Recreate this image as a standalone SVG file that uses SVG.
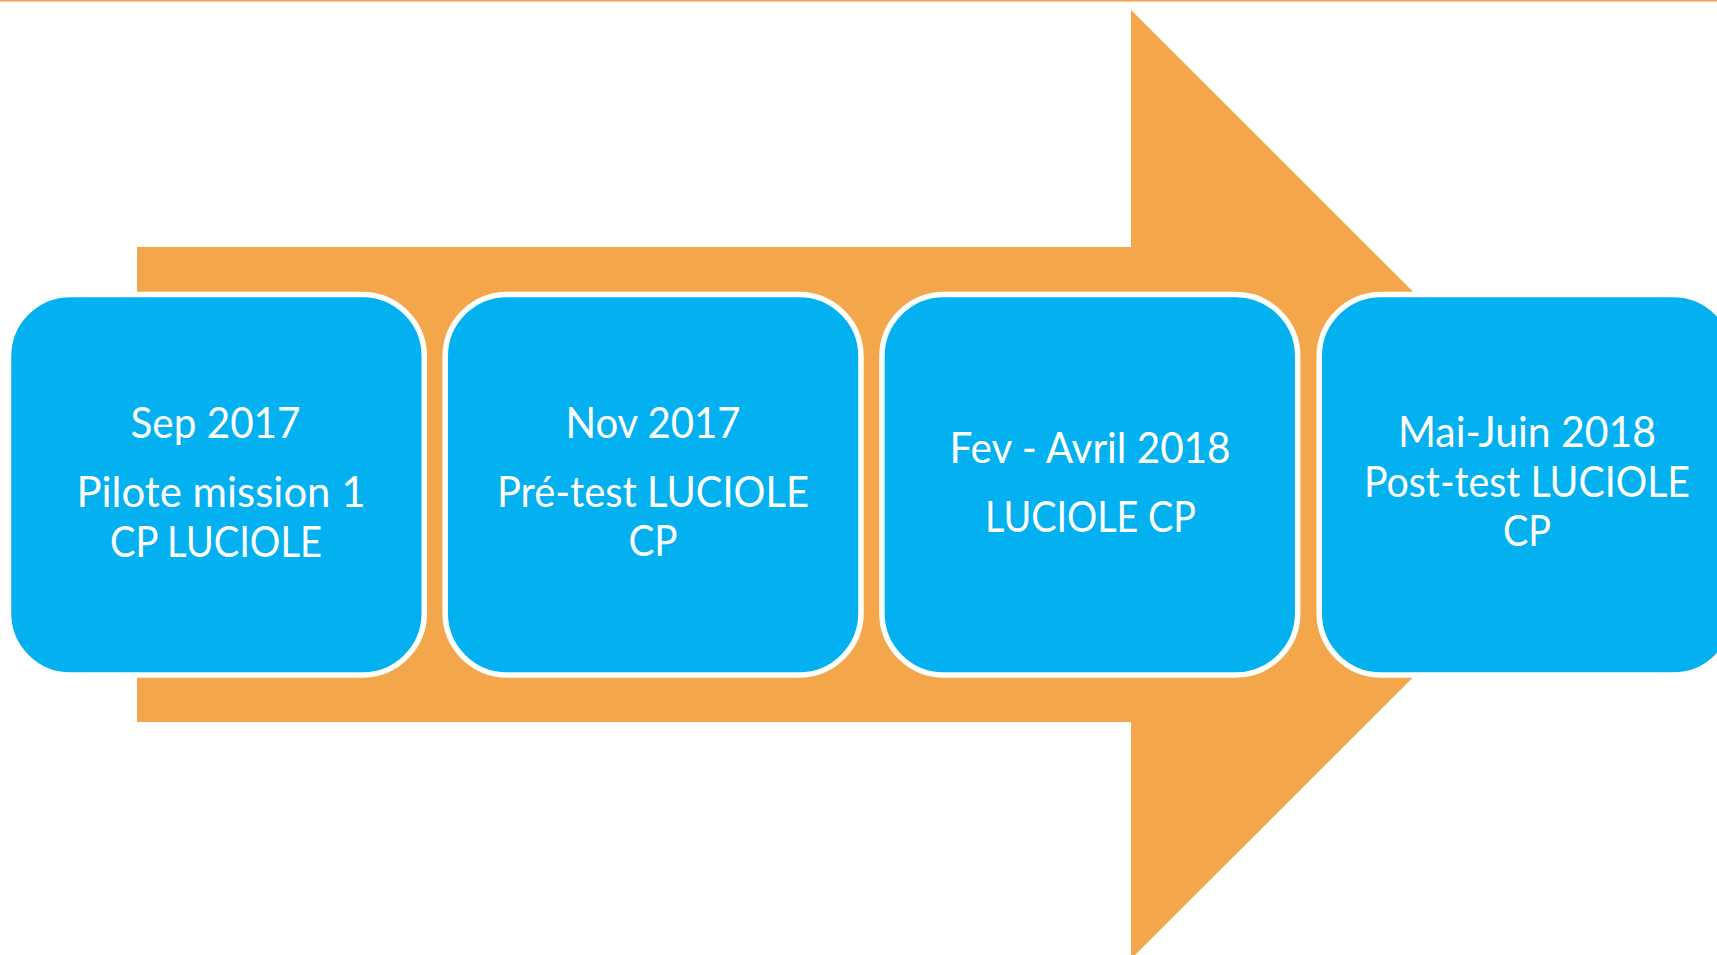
<svg xmlns="http://www.w3.org/2000/svg" width="1717" height="955" viewBox="0 0 1717 955">
<style>
.arrow{fill:#F3A64A}
.box{fill:#03B1F0;stroke:#FFFFFF;stroke-width:5.5}
.t{font-family:Lato,"Liberation Sans",sans-serif;font-size:42px;fill:#FFFFFF;text-anchor:middle}
</style>
<rect x="0" y="0" width="1717" height="955" fill="#FFFFFF"/>
<rect x="0" y="0" width="1717" height="1.5" fill="#F3A64A"/>
<g id="connectors">
<polygon class="arrow" points="137,247 1131,247 1131,10 1606,484.5 1131,959 1131,722 137,722"/>
</g>
<g id="node1">
<rect class="box" x="8.5" y="294.5" width="415.8" height="380.5" rx="62" ry="62"/>
<text class="t" x="215.5" y="438" textLength="170" lengthAdjust="spacingAndGlyphs">Sep 2017</text>
<text class="t" x="221" y="506.5" textLength="289" lengthAdjust="spacingAndGlyphs">Pilote mission 1</text>
<text class="t" x="216" y="556.5" textLength="212" lengthAdjust="spacingAndGlyphs">CP LUCIOLE</text>
</g>
<g id="node2">
<rect class="box" x="445.2" y="294.5" width="415.8" height="380.5" rx="62" ry="62"/>
<text class="t" x="653" y="437.5" textLength="175" lengthAdjust="spacingAndGlyphs">Nov 2017</text>
<text class="t" x="653" y="506.5" textLength="312" lengthAdjust="spacingAndGlyphs">Pré-test  LUCIOLE</text>
<text class="t" x="653" y="556" textLength="49" lengthAdjust="spacingAndGlyphs">CP</text>
</g>
<g id="node3">
<rect class="box" x="881.9" y="294.5" width="415.8" height="380.5" rx="62" ry="62"/>
<text class="t" x="1090" y="462.5" textLength="281" lengthAdjust="spacingAndGlyphs">Fev - Avril 2018</text>
<text class="t" x="1090.5" y="531.5" textLength="211" lengthAdjust="spacingAndGlyphs">LUCIOLE CP</text>
</g>
<g id="node4">
<rect class="box" x="1319.2" y="294.5" width="415.8" height="380.5" rx="62" ry="62"/>
<text class="t" x="1527" y="446.5" textLength="258" lengthAdjust="spacingAndGlyphs">Mai-Juin 2018</text>
<text class="t" x="1527" y="496.5" textLength="326" lengthAdjust="spacingAndGlyphs">Post-test LUCIOLE</text>
<text class="t" x="1527" y="545.5" textLength="48" lengthAdjust="spacingAndGlyphs">CP</text>
</g>
</svg>
